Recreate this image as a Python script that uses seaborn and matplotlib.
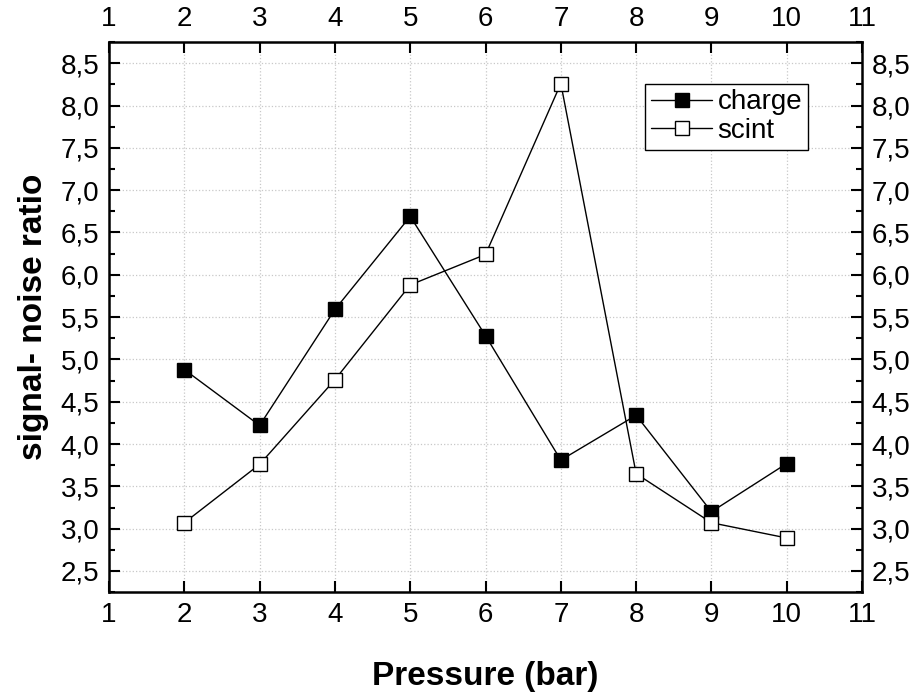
import matplotlib
matplotlib.use("Agg")
import matplotlib.pyplot as plt
from matplotlib.ticker import MultipleLocator, FuncFormatter
import seaborn as sns
import pandas as pd

# Datos
pressure = [2, 3, 4, 5, 6, 7, 8, 9, 10]
charge = [4.88, 4.22, 5.59, 6.69, 5.28, 3.81, 4.34, 3.20, 3.77]
scint = [3.07, 3.76, 4.76, 5.88, 6.24, 8.26, 3.65, 3.07, 2.89]
series = ["charge", "scint"]

df = pd.DataFrame({
    "Pressure": pressure * 2,
    "snr": charge + scint,
    "serie": [series[0]] * len(pressure) + [series[1]] * len(pressure),
})

sns.set_style("ticks")
plt.rcParams["font.family"] = ["Liberation Sans", "DejaVu Sans"]
plt.rcParams.update({
    "text.color": "black", "axes.labelcolor": "black", "axes.edgecolor": "black",
    "xtick.color": "black", "ytick.color": "black",
})

fig = plt.figure(figsize=(9.2, 6.95), dpi=100)
ax = fig.add_axes([0.1185, 0.148, 0.8185, 0.7915])

for name, face in zip(series, ["black", "white"]):
    sub = df[df["serie"] == name]
    sns.lineplot(
        data=sub, x="Pressure", y="snr", ax=ax, label=name,
        color="black", linewidth=1.0, marker="s", markersize=10,
        markerfacecolor=face, markeredgecolor="black", markeredgewidth=1.0,
    )

ax.set_xlim(1, 11)
ax.set_ylim(2.25, 8.75)
ax.xaxis.set_major_locator(MultipleLocator(1))
ax.yaxis.set_major_locator(MultipleLocator(0.5))
ax.yaxis.set_minor_locator(MultipleLocator(0.25))
ax.yaxis.set_major_formatter(FuncFormatter(lambda v, p: f"{v:.1f}".replace(".", ",")))
ax.xaxis.set_major_formatter(FuncFormatter(lambda v, p: f"{v:.0f}"))

ax.grid(True, which="major", linestyle=":", color="#c8c8c8", linewidth=0.9)
ax.tick_params(which="both", direction="in", top=True, right=True,
               labeltop=True, labelright=True, width=1.5, labelsize=20, pad=7)
ax.tick_params(which="major", length=8)
ax.tick_params(which="minor", length=4)
ax.tick_params(axis="x", which="minor", top=False, bottom=False)
for s in ax.spines.values():
    s.set_linewidth(1.8)
    s.set_visible(True)

ax.set_xlabel("Pressure (bar)", fontsize=24, fontweight="bold", labelpad=24)
ax.set_ylabel("signal- noise ratio", fontsize=24, fontweight="bold", labelpad=8)

leg = ax.legend(loc="upper right", bbox_to_anchor=(0.928, 0.924), fontsize=20,
                fancybox=False, framealpha=1, edgecolor="black",
                handlelength=2.2, handletextpad=0.2, borderpad=0.2,
                labelspacing=0.1, borderaxespad=0)
leg.get_frame().set_linewidth(1.0)

fig.savefig("out.png", dpi=100)
